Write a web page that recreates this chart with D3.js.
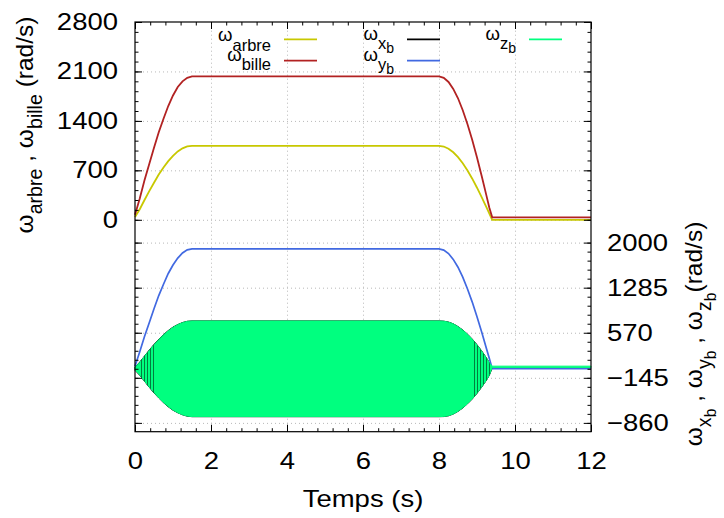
<!DOCTYPE html>
<html><head><meta charset="utf-8">
<script src="https://cdn.jsdelivr.net/npm/d3@7"></script>
<style>body{margin:0;background:#fff} text{font-family:"Liberation Sans",Arial,sans-serif;fill:#000}</style>
</head><body><svg id="c" width="724" height="518"></svg>
<script>
// ---- data ----
const time = [0,0.125,0.25,0.375,0.5,0.625,0.75,0.875,1,1.125,1.25,1.375,1.5,2,3,4,5,6,7,8,8.125,8.25,8.375,8.5,8.625,8.75,8.875,9,9.125,9.25,9.325,9.4,9.5,10,11,12];
const omegaArbre = [40,150,280,405,525,640,740,830,905,968,1012,1038,1047,1047,1047,1047,1047,1047,1047,1047,1037,1006,956,887,800,697,582,454,318,175,88,0,0,0,0,0];
const omegaBille = [70,300,560,790,1020,1240,1430,1610,1760,1880,1960,2010,2030,2030,2030,2030,2030,2030,2030,2030,2010,1951,1853,1720,1551,1352,1129,881,617,339,170,35,35,35,35,35];
const omegaYb = [40,270,510,730,950,1160,1340,1510,1645,1755,1835,1885,1900,1900,1900,1900,1900,1900,1900,1900,1881,1826,1734,1609,1452,1265,1056,825,578,317,160,0,0,0,0,0];
const omegaZbMax = [20,99,196,289,378,460,535,600,655,698,730,750,756,756,756,756,756,756,756,756,752,738,710,665,610,545,465,375,275,165,90,40,40,40,40,40];
const omegaZbMin = [-20,-99,-196,-289,-378,-460,-535,-600,-655,-698,-730,-752,-760,-760,-760,-760,-760,-760,-760,-760,-758,-745,-718,-675,-620,-555,-478,-388,-288,-178,-100,20,20,20,20,20];
const omegaXbMax = [25,105,200,295,385,465,540,605,660,700,732,752,758,758,758,758,758,758,758,758,754,740,712,668,614,548,470,380,280,170,95,12,12,12,12,12];
const omegaXbMin = [-25,-105,-200,-295,-385,-465,-540,-605,-660,-700,-732,-754,-762,-762,-762,-762,-762,-762,-762,-762,-760,-748,-720,-678,-624,-558,-482,-392,-292,-182,-105,8,8,8,8,8];
const xTicks = [0,2,4,6,8,10,12];
const yLeftTicks = [0,700,1400,2100,2800];
const yRightTicks = [-860,-145,570,1285,2000];
const yRightLabels = ["\u2212860","\u2212145","570","1285","2000"];

// ---- layout ----
const svg = d3.select("#c");
const L=135, R=591, T=22, B=431.7;
const FS = 23.5, SX = 1.17, TFS = 24.5;
const x = d3.scaleLinear().domain([0,12]).range([L,R]);
const yL = d3.scaleLinear().domain([-3000,2800]).range([B,T]);
const yR = d3.scaleLinear().domain([-1000,5500]).range([B,T]);
const col = {arbre:"#c8c800", bille:"#b22222", xb:"#000000", yb:"#4169e1", zb:"#00ff7f"};

svg.append("rect").attr("width",724).attr("height",518).attr("fill","#fff");
const defs = svg.append("defs");
const pat = defs.append("pattern").attr("id","hatch").attr("patternUnits","userSpaceOnUse").attr("width",3).attr("height",8);
pat.append("rect").attr("x",0).attr("y",0).attr("width",1).attr("height",8).attr("fill","#000").attr("opacity",0.5);

// grid
function gridStyle(g){ g.select(".domain").remove(); g.selectAll("text").remove();
  g.selectAll("line").attr("stroke","#b8b8b8").attr("stroke-width",1).attr("stroke-dasharray","1,3"); }
svg.append("g").attr("transform",`translate(0,${B})`)
  .call(d3.axisBottom(x).tickValues([2,4,6,8,10]).tickSize(-(B-T))).call(gridStyle);
svg.append("g").attr("transform",`translate(${L},0)`)
  .call(d3.axisLeft(yL).tickValues([0,700,1400,2100]).tickSize(-(R-L))).call(gridStyle);
svg.append("g").attr("transform",`translate(${L},0)`)
  .call(d3.axisLeft(yR).tickValues(yRightTicks).tickSize(-(R-L))).call(gridStyle);

// data
const idx = d3.range(time.length);
const lineL = arr => d3.line().x(i=>x(time[i])).y(i=>yL(arr[i]))(idx);
const lineR = arr => d3.line().x(i=>x(time[i])).y(i=>yR(arr[i]))(idx);
const areaR = (hi,lo,ids) => d3.area().x(i=>x(time[i])).y0(i=>yR(lo[i])).y1(i=>yR(hi[i]))(ids||idx);

svg.append("path").attr("d",lineL(omegaArbre)).attr("fill","none").attr("stroke",col.arbre).attr("stroke-width",1.8);
svg.append("path").attr("d",lineL(omegaBille)).attr("fill","none").attr("stroke",col.bille).attr("stroke-width",1.8);
svg.append("path").attr("d",areaR(omegaXbMax,omegaXbMin)).attr("fill",col.xb).attr("stroke",col.xb).attr("stroke-width",1);
svg.append("path").attr("d",lineR(omegaYb)).attr("fill","none").attr("stroke",col.yb).attr("stroke-width",1.7);
svg.append("path").attr("d",areaR(omegaZbMax,omegaZbMin)).attr("fill",col.zb).attr("stroke",col.zb).attr("stroke-width",1);
// visible omega_xb oscillations where the rotation is slow (start and end of the ramps)
const slowA = idx.filter(i=>time[i]>=0.05&&time[i]<=0.5), slowB = idx.filter(i=>time[i]>=8.875&&time[i]<=9.4);
[slowA, slowB].forEach(ids=>svg.append("path").attr("d",areaR(omegaXbMax,omegaXbMin,ids)).attr("fill","url(#hatch)"));

// axes (ticks inward)
function tickStyle(g){ g.select(".domain").remove(); g.selectAll("line").attr("stroke","#000").attr("stroke-width",1);
  g.selectAll("text").attr("font-size",FS).attr("font-family",'"Liberation Sans",Arial,sans-serif')
    .attr("transform",function(){ const tx=+(this.getAttribute("x")||0); return `translate(${tx},0) scale(${SX},1) translate(${-tx},0)`; }); }
const noLab = () => "";
svg.append("g").attr("transform",`translate(0,${B})`)
  .call(d3.axisBottom(x).tickValues(xTicks).tickSizeInner(-7).tickPadding(21).tickFormat(d3.format("d"))).call(tickStyle);
svg.append("g").attr("transform",`translate(0,${B})`)
  .call(d3.axisBottom(x).tickValues(d3.range(0,12.01,0.4)).tickSizeInner(-3.5).tickFormat(noLab)).call(tickStyle);
svg.append("g").attr("transform",`translate(0,${T})`)
  .call(d3.axisTop(x).tickValues(xTicks).tickSizeInner(-7).tickFormat(noLab)).call(tickStyle);
svg.append("g").attr("transform",`translate(0,${T})`)
  .call(d3.axisTop(x).tickValues(d3.range(0,12.01,0.4)).tickSizeInner(-3.5).tickFormat(noLab)).call(tickStyle);
svg.append("g").attr("transform",`translate(${L},0)`)
  .call(d3.axisLeft(yL).tickValues(yLeftTicks).tickSizeInner(-7).tickPadding(17).tickFormat(d3.format("d"))).call(tickStyle);
svg.append("g").attr("transform",`translate(${L},0)`)
  .call(d3.axisLeft(yL).tickValues(d3.range(0,2801,140)).tickSizeInner(-3.5).tickFormat(noLab)).call(tickStyle);
svg.append("g").attr("transform",`translate(${R},0)`)
  .call(d3.axisRight(yL).tickValues(yLeftTicks).tickSizeInner(-7).tickFormat(noLab)).call(tickStyle);
svg.append("g").attr("transform",`translate(${R},0)`)
  .call(d3.axisRight(yL).tickValues(d3.range(0,2801,140)).tickSizeInner(-3.5).tickFormat(noLab)).call(tickStyle);
svg.append("g").attr("transform",`translate(${R},0)`)
  .call(d3.axisRight(yR).tickValues(yRightTicks).tickSizeInner(-7).tickPadding(16).tickFormat((d,i)=>yRightLabels[i])).call(tickStyle);
svg.append("g").attr("transform",`translate(${R},0)`)
  .call(d3.axisRight(yR).tickValues(d3.range(-860,2001,143)).tickSizeInner(-3.5).tickFormat(noLab)).call(tickStyle);
svg.append("g").attr("transform",`translate(${L},0)`)
  .call(d3.axisLeft(yR).tickValues(yRightTicks).tickSizeInner(-7).tickFormat(noLab)).call(tickStyle);
svg.append("g").attr("transform",`translate(${L},0)`)
  .call(d3.axisLeft(yR).tickValues(d3.range(-860,2001,143)).tickSizeInner(-3.5).tickFormat(noLab)).call(tickStyle);

// border
svg.append("rect").attr("x",L).attr("y",T).attr("width",R-L).attr("height",B-T).attr("fill","none").attr("stroke","#000").attr("stroke-width",1.2);

// rich text helper (subscripts): parts = [text, level], sizes per level, baseline offsets per level
function rich(t, parts, sizes, offs){
  let cur=0;
  parts.forEach(p=>{
    const lvl=p[1]||0;
    t.append("tspan").attr("dy",offs[lvl]-cur).attr("font-size",sizes[lvl]).text(p[0]);
    cur=offs[lvl];
  });
  return t;
}

// titles
svg.append("text").attr("transform",`translate(${(L+R)/2},507) scale(${SX},1)`).attr("text-anchor","middle").attr("font-size",FS).text("Temps (s)");
rich(svg.append("text").attr("transform","translate(33,125) rotate(-90)").attr("text-anchor","middle").attr("font-size",TFS),
  [["ω"],["arbre",1],[" , ω"],["bille",1],[" (rad/s)"]], [TFS,TFS*0.8,TFS*0.64], [0,9,14]);
rich(svg.append("text").attr("transform","translate(702,334) rotate(-90)").attr("text-anchor","middle").attr("font-size",TFS),
  [["ω"],["x",1],["b",2],[" , ω"],["y",1],["b",2],[" , ω"],["z",1],["b",2],["(rad/s)"]], [TFS,TFS*0.8,TFS*0.64], [0,9,14]);

// legend
const legend = [
  {parts:[["ω"],["arbre",1]], c:col.arbre, tx:271, lx:284, y:41, ly:39.3},
  {parts:[["ω"],["bille",1]], c:col.bille, tx:271, lx:284, y:60.5, ly:60.7},
  {parts:[["ω"],["x",1],["b",2]], c:col.xb, tx:394, lx:407, y:39.5, ly:39.3},
  {parts:[["ω"],["y",1],["b",2]], c:col.yb, tx:394, lx:407, y:60.5, ly:60.7},
  {parts:[["ω"],["z",1],["b",2]], c:col.zb, tx:516, lx:529, y:39.5, ly:39.3}
];
legend.forEach(e=>{
  rich(svg.append("text").attr("x",e.tx).attr("y",e.y).attr("text-anchor","end").attr("font-size",18.5), e.parts, [18.5,16.5,14], [0,9.5,13.5]);
  svg.append("line").attr("x1",e.lx).attr("x2",e.lx+33).attr("y1",e.ly).attr("y2",e.ly).attr("stroke",e.c).attr("stroke-width",1.7);
});
</script></body></html>
